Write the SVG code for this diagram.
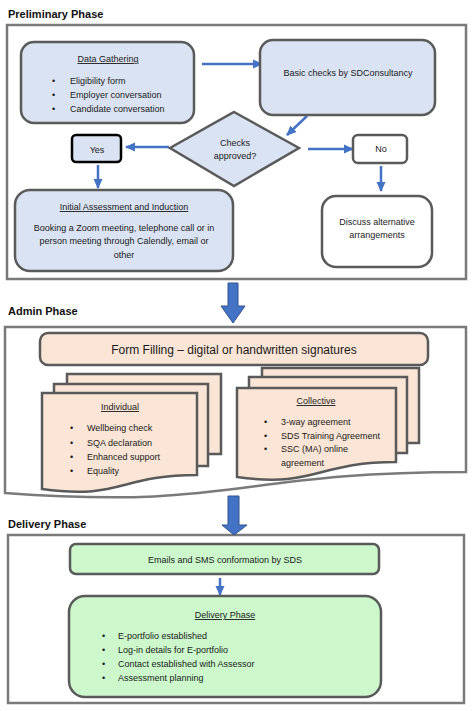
<svg xmlns="http://www.w3.org/2000/svg" width="476" height="711" viewBox="0 0 476 711">
<style>
.t{font-family:"Liberation Sans",Arial,sans-serif;font-size:9px;fill:#1a1a1a}
.c{text-anchor:middle}
.u{text-decoration:underline}
.h{font-family:"Liberation Sans",Arial,sans-serif;font-size:11px;font-weight:bold;fill:#111}
.frame{fill:#fff;stroke:#7a7a7a;stroke-width:2.5}
.box{stroke:#5a5a5a;stroke-width:2.5}
.blue{fill:#dae3f3}
.peach{fill:#fbe5d6}
.green{fill:#ccf8cc}
.white{fill:#fff}
.conn{stroke:#4472c4;stroke-width:2.5;fill:none}
.block{fill:#4472c4;stroke:#2f528f;stroke-width:1}
</style>
<defs>
<marker id="ah" markerUnits="userSpaceOnUse" markerWidth="10" markerHeight="10" viewBox="0 0 10 10" refX="9" refY="5" orient="auto">
<path d="M0,0.5 L10,5 L0,9.5 Z" fill="#4472c4"/>
</marker>
</defs>
<rect width="476" height="711" fill="#fff"/>

<g id="phase-preliminary">
<text class="h" x="8" y="18">Preliminary Phase</text>
<rect class="frame" x="7" y="25" width="459" height="254"/>
</g>

<g id="phase-admin">
<text class="h" x="8" y="315">Admin Phase</text>
<path class="frame" d="M5,327 H466 V472 C236,472 236,510 5,493 Z"/>
</g>

<g id="phase-delivery">
<text class="h" x="8" y="528">Delivery Phase</text>
<rect class="frame" x="8" y="535" width="456" height="168"/>
</g>

<g id="connectors">
<line class="conn" x1="202" y1="64" x2="262" y2="64" marker-end="url(#ah)"/>
<line class="conn" x1="307" y1="116" x2="287" y2="135" marker-end="url(#ah)"/>
<line class="conn" x1="169" y1="147" x2="126" y2="147" marker-end="url(#ah)"/>
<line class="conn" x1="308" y1="149" x2="353" y2="149" marker-end="url(#ah)"/>
<line class="conn" x1="381" y1="166" x2="381" y2="191" marker-end="url(#ah)"/>
<line class="conn" x1="98" y1="165" x2="98" y2="188" marker-end="url(#ah)"/>
<line class="conn" x1="220" y1="578" x2="220" y2="595" marker-end="url(#ah)"/>
<path class="block" d="M228,283 H238 V306 H245 L233,323 L221,306 H228 Z"/>
<path class="block" d="M228,496 H239 V525 H247 L234,535 L222,525 H228 Z"/>
</g>

<g id="data-gathering">
<rect class="box blue" x="21" y="42" width="173" height="81" rx="13"/>
<text class="t c u" x="108" y="62">Data Gathering</text>
<text class="t" x="52" y="84">•</text><text class="t" x="70" y="84">Eligibility  form</text>
<text class="t" x="52" y="98">•</text><text class="t" x="70" y="98">Employer  conversation</text>
<text class="t" x="52" y="112">•</text><text class="t" x="70" y="112">Candidate  conversation</text>
</g>

<g id="basic-checks">
<rect class="box blue" x="260" y="40" width="175" height="75" rx="13"/>
<text class="t c" x="348" y="76">Basic checks  by  SDConsultancy</text>
</g>

<g id="checks-approved">
<path class="box blue" d="M234,112 L299,148 L234,186 L170,148 Z"/>
<text class="t c" x="235" y="146">Checks</text>
<text class="t c" x="235" y="159">approved?</text>
</g>

<g id="yes">
<rect class="blue" x="72" y="135" width="49" height="27" rx="4" stroke="#000" stroke-width="2.5"/>
<text class="t c" x="97" y="153">Yes</text>
</g>

<g id="no">
<rect class="box white" x="353" y="135" width="54" height="28" rx="5"/>
<text class="t c" x="381" y="152">No</text>
</g>

<g id="initial-assessment">
<rect class="box blue" x="15" y="190" width="218" height="81" rx="15"/>
<text class="t c u" x="124" y="210">Initial Assessment and Induction</text>
<text class="t c" x="124" y="231">Booking  a Zoom meeting, telephone  call or in</text>
<text class="t c" x="124" y="244">person  meeting through  Calendly,  email or</text>
<text class="t c" x="124" y="258">other</text>
</g>

<g id="discuss">
<rect class="box white" x="322" y="196" width="110" height="71" rx="14"/>
<text class="t c" x="377" y="225">Discuss  alternative</text>
<text class="t c" x="377" y="238">arrangements</text>
</g>

<g id="form-filling">
<rect class="box peach" x="40" y="333" width="388" height="32" rx="8"/>
<text x="234" y="354" class="c" style="font-family:'Liberation Sans',Arial,sans-serif;font-size:12px;fill:#1a1a1a">Form Filling – digital or handwritten signatures</text>
</g>

<g id="individual">
<path class="box peach" d="M67,374 H221 V454 H67 Z"/>
<path class="box peach" d="M54,384 H208 V466 H54 Z"/>
<path class="box peach" d="M42,393 H197 V475 C120,475 120,500 42,489 Z"/>
<text class="t c u" x="120" y="410">Individual</text>
<text class="t" x="70" y="431">•</text><text class="t" x="87" y="431">Wellbeing  check</text>
<text class="t" x="70" y="446">•</text><text class="t" x="87" y="446">SQA declaration</text>
<text class="t" x="70" y="460">•</text><text class="t" x="87" y="460">Enhanced  support</text>
<text class="t" x="70" y="474">•</text><text class="t" x="87" y="474">Equality</text>
</g>

<g id="collective">
<path class="box peach" d="M262,368 H419 V443 H262 Z"/>
<path class="box peach" d="M249,377 H407 V453 H249 Z"/>
<path class="box peach" d="M237,388 H396 V462 C316,462 316,488 237,477 Z"/>
<text class="t c u" x="316" y="404">Collective</text>
<text class="t" x="264" y="425">•</text><text class="t" x="281" y="425">3-way agreement</text>
<text class="t" x="264" y="439">•</text><text class="t" x="281" y="439">SDS Training  Agreement</text>
<text class="t" x="264" y="452">•</text><text class="t" x="281" y="452">SSC (MA) online</text>
<text class="t" x="281" y="466">agreement</text>
</g>

<g id="emails-sms">
<rect class="box green" x="70" y="544" width="309" height="30" rx="6"/>
<text class="t c" x="225" y="563">Emails and SMS conformation  by SDS</text>
</g>

<g id="delivery">
<rect class="box green" x="69" y="596" width="312" height="101" rx="16"/>
<text class="t c u" x="225" y="618">Delivery  Phase</text>
<text class="t" x="102" y="639">•</text><text class="t" x="118" y="639">E-portfolio  established</text>
<text class="t" x="102" y="653">•</text><text class="t" x="118" y="653">Log-in  details for E-portfolio</text>
<text class="t" x="102" y="667">•</text><text class="t" x="118" y="667">Contact  established  with  Assessor</text>
<text class="t" x="102" y="681">•</text><text class="t" x="118" y="681">Assessment  planning</text>
</g>
</svg>
